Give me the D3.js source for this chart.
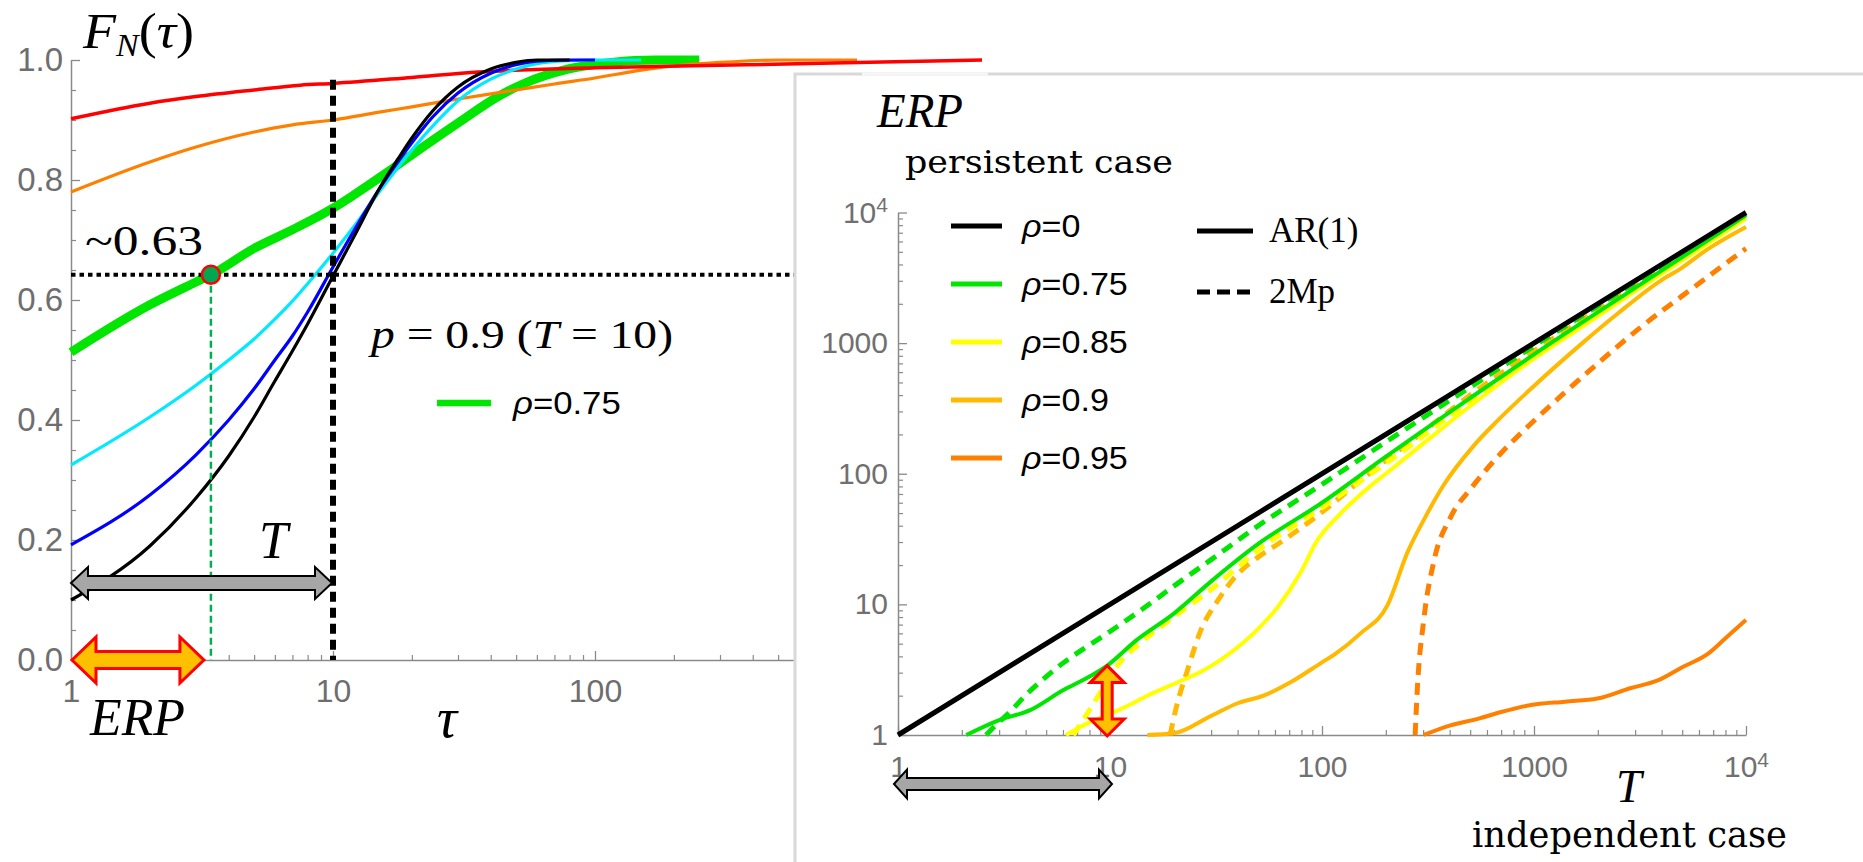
<!DOCTYPE html>
<html><head><meta charset="utf-8">
<script src="https://cdn.jsdelivr.net/npm/d3@7"></script>
<style>body{margin:0;background:#fff;} svg{display:block;}</style>
</head><body><svg id="c" width="1863" height="862"></svg>
<script>
// ---------------- LEFT PANEL DATA: F_N(tau) ----------------
const leftXTicks = [1, 10, 100];
const leftXTickLabels = ["1", "10", "100"];
const leftXMinor = [2,3,4,5,6,7,8,9,20,30,40,50,60,70,80,90,200,300,400,500,600,700,800,900];
const leftYTicks = [0, 0.2, 0.4, 0.6, 0.8, 1.0];
const leftYTickLabels = ["0.0", "0.2", "0.4", "0.6", "0.8", "1.0"];
const leftYMinor = [0.05,0.1,0.15,0.25,0.3,0.35,0.45,0.5,0.55,0.65,0.7,0.75,0.85,0.9,0.95];

const tauBlack = [1,2,3,4,5,6,7,8,10,12,15,18,20,24,30,40,50,60,80];
const fBlack   = [0.10,0.19,0.27,0.34,0.405,0.465,0.515,0.56,0.64,0.705,0.785,0.84,0.87,0.915,0.955,0.985,0.996,1.0,1.0];
const tauBlue  = [1,2,3,4,5,6,7,8,10,12,15,18,20,24,30,40,50,60,80,100];
const fBlue    = [0.192,0.275,0.342,0.40,0.452,0.50,0.54,0.58,0.655,0.715,0.785,0.835,0.862,0.905,0.945,0.978,0.992,0.998,1.0,1.0];
const tauCyan  = [1,2,3,4,5,6,7,8.4,10,12,15,18,20,25,30,40,50,60,80,100,150];
const fCyan    = [0.325,0.405,0.458,0.50,0.535,0.568,0.598,0.638,0.678,0.722,0.78,0.825,0.85,0.898,0.932,0.968,0.985,0.994,0.999,1.0,1.0];
const tauGreen = [1,2,3,3.42,5,7,10,12,16,20,30,43,53,79,116,170,250];
const fGreen   = [0.513,0.592,0.63,0.642,0.686,0.717,0.753,0.775,0.812,0.842,0.895,0.94,0.96,0.985,0.996,1.0,1.0];
const tauOrange= [1,2,3,5,7,10,15,20,30,50,70,100,150,200,300,500,1000];
const fOrange  = [0.78,0.83,0.855,0.88,0.892,0.90,0.913,0.922,0.935,0.95,0.96,0.97,0.983,0.99,0.996,1.0,1.0];
const tauRed   = [1,2,3,5,7.5,10,20,36,100,378,1000,3000];
const fRed     = [0.902,0.928,0.939,0.95,0.958,0.961,0.971,0.98,0.987,0.992,0.996,1.0];

const pLevel = 0.642;     // F value of the ~0.63 threshold
const erpTau = 3.42;      // tau where green crosses the threshold
const Tval = 10;          // T = 10

// ---------------- RIGHT PANEL DATA: ERP vs T ----------------
const rightTicks = [1, 10, 100, 1000, 10000];
const rightTickLabels = ["1", "10", "100", "1000", "10^4"];
const rightMinor = [];
[1,10,100,1000].forEach(b => [2,3,4,5,6,7,8,9].forEach(m => rightMinor.push(b*m)));

const T_rho0 = [1, 10000];
const E_rho0 = [1, 10000];
const T_g_ar = [2.1,3,4.2,6,8,9.7,13.3,20,30,50,100,200,500,1000,3000,10000];
const E_g_ar = [1,1.3,1.55,2.2,2.8,3.4,5.3,8.5,15,29,60,135,380,820,2650,9500];
const T_g_mp = [2.6,3,3.3,4.1,5,6,7.4,10,15,20,30,50,100,200,500,1000,3000,10000];
const E_g_mp = [1,1.26,1.45,2.1,2.8,3.55,4.5,6.2,9.8,13.8,22,40,83,175,460,950,2900,9750];
const T_y_ar = [6.2,8,10,12,15,20.5,27.4,40,50,62,80,94,120,167,200,300,500,1000,2000,3000,5000,10000];
const E_y_ar = [1,1.25,1.45,1.66,2.0,2.5,3.1,4.7,6.5,9.6,18,30,48,79,100,170,330,760,1600,2500,4300,9000];
const T_y_mp = [6.7,7.9,9.6,11,13.8,20,30,50,100,200,500,1000,3000,10000];
const E_y_mp = [1,1.5,2.5,3.5,5.0,8.0,13,26,55,120,360,780,2550,9100];
const T_o9_ar = [15,20,30,40,53,70,100,116,152,204,253,308,375,513,673,1000,1690,2500,3950,4900,6550,10000];
const E_o9_ar = [1,1.03,1.4,1.75,2.0,2.5,3.6,4.2,6.0,9.9,25,47,82,160,255,470,1000,1700,3000,3700,5200,7750];
const T_o9_mp = [19.2,20.6,23,27,32,40,50,62,94,160,300,500,1000,2000,5000,10000];
const E_o9_mp = [1,1.66,3,6.5,10.5,17,23,29,47,95,210,400,870,1800,4600,9200];
const T_o95_ar = [302,400,553,700,954,1400,1990,2840,3860,5000,6630,8000,10000];
const E_o95_ar = [1,1.18,1.34,1.5,1.69,1.8,1.9,2.28,2.63,3.3,4.2,5.5,7.6];
const T_o95_mp = [275,282,302,338,405,510,700,955,1365,2000,3200,5000,10000];
const E_o95_mp = [1,2.34,7.6,21.8,46.8,79,144,237,405,700,1330,2300,5300];

const legendRho = ["0", "0.75", "0.85", "0.9", "0.95"];
const legendStyles = ["AR(1)", "2Mp"];
const arrowT = 9.7, arrowE = 3.4;

// ---------------- SETUP ----------------
const svg = d3.select("#c");
const serif = "'Liberation Serif', 'Times New Roman', serif";
const sans = "'Liberation Sans', Arial, sans-serif";

const xL = d3.scaleLog().domain([1, 1000]).range([71, 857]);
const yL = d3.scaleLinear().domain([0, 1]).range([660, 60]);
const xR = d3.scaleLog().domain([1, 1e4]).range([898, 1746]);
const yR = d3.scaleLog().domain([1, 1e4]).range([735, 212.5]);

function styleAxis(g, fs, col) {
  g.select(".domain").attr("stroke", "#8a8a8a").attr("stroke-width", 1.5);
  g.selectAll(".tick line").attr("stroke", "#8a8a8a").attr("stroke-width", 1.3);
  g.selectAll(".tick text").attr("font-family", sans).attr("font-size", fs).attr("fill", col);
}
function dArrowH(x1, x2, yc, bh, hh, hl) {
  return `M${x1},${yc}L${x1+hl},${yc-hh/2}L${x1+hl},${yc-bh/2}L${x2-hl},${yc-bh/2}L${x2-hl},${yc-hh/2}L${x2},${yc}L${x2-hl},${yc+hh/2}L${x2-hl},${yc+bh/2}L${x1+hl},${yc+bh/2}L${x1+hl},${yc+hh/2}Z`;
}
function dArrowV(xc, y1, y2, bw, hw, hl) {
  return `M${xc},${y1}L${xc+hw/2},${y1+hl}L${xc+bw/2},${y1+hl}L${xc+bw/2},${y2-hl}L${xc+hw/2},${y2-hl}L${xc},${y2}L${xc-hw/2},${y2-hl}L${xc-bw/2},${y2-hl}L${xc-bw/2},${y1+hl}L${xc-hw/2},${y1+hl}Z`;
}
function stretch(t, k) {
  const n = t.node().getComputedTextLength();
  t.attr("textLength", n * k).attr("lengthAdjust", "spacingAndGlyphs");
}
const zip = (a, b) => a.map((v, i) => [v, b[i]]);

// ---------------- LEFT PANEL ----------------
const gL = svg.append("g");
gL.append("g").attr("transform", "translate(71,0)")
  .call(d3.axisLeft(yL).tickValues(leftYMinor).tickSize(-5).tickFormat("").tickSizeOuter(0))
  .call(g => { g.select(".domain").remove(); g.selectAll("line").attr("stroke", "#8a8a8a").attr("stroke-width", 1.2); });
gL.append("g").attr("transform", "translate(0,660)")
  .call(d3.axisBottom(xL).tickValues(leftXMinor).tickSize(-5).tickFormat("").tickSizeOuter(0))
  .call(g => { g.select(".domain").remove(); g.selectAll("line").attr("stroke", "#8a8a8a").attr("stroke-width", 1.2); });
gL.append("g").attr("transform", "translate(71,0)")
  .call(d3.axisLeft(yL).tickValues(leftYTicks).tickFormat((d, i) => leftYTickLabels[i]).tickSize(-9).tickPadding(8).tickSizeOuter(0))
  .call(g => styleAxis(g, 33, "#6e6e6e"));
gL.append("g").attr("transform", "translate(0,660)")
  .call(d3.axisBottom(xL).tickValues(leftXTicks).tickFormat((d, i) => leftXTickLabels[i]).tickSize(-9).tickPadding(19).tickSizeOuter(0))
  .call(g => styleAxis(g, 32, "#6e6e6e"));

const lineL = d3.line().x(d => xL(d[0])).y(d => yL(d[1])).curve(d3.curveMonotoneX);
const leftSeries = [
  {t: tauGreen, f: fGreen, c: "#00e600", w: 9},
  {t: tauOrange, f: fOrange, c: "#ff8000", w: 3.2},
  {t: tauRed, f: fRed, c: "#ff0000", w: 3.5},
  {t: tauCyan, f: fCyan, c: "#00eaff", w: 3.2},
  {t: tauBlue, f: fBlue, c: "#0000ff", w: 3.2},
  {t: tauBlack, f: fBlack, c: "#000000", w: 3.2}
];
leftSeries.forEach(s => gL.append("path").attr("d", lineL(zip(s.t, s.f)))
  .attr("fill", "none").attr("stroke", s.c).attr("stroke-width", s.w).attr("stroke-linejoin", "round"));

gL.append("line").attr("x1", xL(1)).attr("x2", 796).attr("y1", yL(pLevel)).attr("y2", yL(pLevel))
  .attr("stroke", "#000").attr("stroke-width", 4).attr("stroke-dasharray", "4.5,4");
gL.append("line").attr("x1", xL(Tval)).attr("x2", xL(Tval)).attr("y1", yL(0.967)).attr("y2", yL(0))
  .attr("stroke", "#000").attr("stroke-width", 6).attr("stroke-dasharray", "10,6");
gL.append("line").attr("x1", xL(erpTau)).attr("x2", xL(erpTau)).attr("y1", yL(pLevel)).attr("y2", yL(0))
  .attr("stroke", "#00b050").attr("stroke-width", 2.5).attr("stroke-dasharray", "7,4");
gL.append("circle").attr("cx", xL(erpTau)).attr("cy", yL(pLevel)).attr("r", 9)
  .attr("fill", "#00a651").attr("stroke", "#ff0000").attr("stroke-width", 2.5);

gL.append("path").attr("d", dArrowH(xL(1), xL(Tval) - 1, 583, 14, 32, 17))
  .attr("fill", "#a6a6a6").attr("stroke", "#000").attr("stroke-width", 2);
gL.append("path").attr("d", dArrowH(xL(1) + 1, xL(erpTau) - 7, yL(0), 17, 46, 24))
  .attr("fill", "#ffc000").attr("stroke", "#ff0000").attr("stroke-width", 3);

const tF = gL.append("text").attr("x", 83).attr("y", 48).attr("font-family", serif).attr("font-size", 51)
  .attr("textLength", 111).attr("lengthAdjust", "spacingAndGlyphs");
tF.append("tspan").attr("font-style", "italic").text("F");
tF.append("tspan").attr("font-style", "italic").attr("font-size", 32).attr("dy", 8).text("N");
tF.append("tspan").attr("dy", -8).text("(");
tF.append("tspan").attr("font-style", "italic").text("τ");
tF.append("tspan").text(")");

gL.append("text").attr("x", 85).attr("y", 255).attr("font-family", serif).attr("font-size", 43)
  .attr("textLength", 118).attr("lengthAdjust", "spacingAndGlyphs").text("~0.63");

const tp = gL.append("text").attr("x", 371).attr("y", 348).attr("font-family", serif).attr("font-size", 39)
  .attr("textLength", 302).attr("lengthAdjust", "spacingAndGlyphs");
tp.append("tspan").attr("font-style", "italic").text("p");
tp.append("tspan").text(" = 0.9  (");
tp.append("tspan").attr("font-style", "italic").text("T");
tp.append("tspan").text(" = 10)");

gL.append("line").attr("x1", 437).attr("x2", 491).attr("y1", 403).attr("y2", 403)
  .attr("stroke", "#00e600").attr("stroke-width", 6.5);
const tleg = gL.append("text").attr("x", 513).attr("y", 414).attr("font-family", sans).attr("font-size", 31);
tleg.append("tspan").attr("font-style", "italic").text("ρ");
tleg.append("tspan").text("=0.75");
stretch(tleg, 1.12);

gL.append("text").attr("x", 259).attr("y", 558).attr("font-family", serif).attr("font-style", "italic")
  .attr("font-size", 52).text("T");
gL.append("text").attr("x", 90).attr("y", 735).attr("font-family", serif).attr("font-style", "italic")
  .attr("font-size", 52).attr("textLength", 95).attr("lengthAdjust", "spacingAndGlyphs").text("ERP");
gL.append("text").attr("x", 437).attr("y", 737).attr("font-family", serif).attr("font-style", "italic")
  .attr("font-size", 56).text("τ");

// ---------------- INSET BOX ----------------
svg.append("rect").attr("x", 795).attr("y", 74).attr("width", 1200).attr("height", 900)
  .attr("fill", "#fff").attr("stroke", "#d9d9d9").attr("stroke-width", 3);
svg.append("line").attr("x1", 862).attr("x2", 988).attr("y1", 74).attr("y2", 74)
  .attr("stroke", "#f6f6f6").attr("stroke-width", 3.5);

// ---------------- RIGHT PANEL ----------------
const gR = svg.append("g");
gR.append("g").attr("transform", "translate(898,0)")
  .call(d3.axisLeft(yR).tickValues(rightMinor).tickSize(-5).tickFormat("").tickSizeOuter(0))
  .call(g => { g.select(".domain").remove(); g.selectAll("line").attr("stroke", "#8a8a8a").attr("stroke-width", 1.2); });
gR.append("g").attr("transform", "translate(0,735)")
  .call(d3.axisBottom(xR).tickValues(rightMinor).tickSize(-5).tickFormat("").tickSizeOuter(0))
  .call(g => { g.select(".domain").remove(); g.selectAll("line").attr("stroke", "#8a8a8a").attr("stroke-width", 1.2); });

function supLabels(g) {
  g.selectAll(".tick text").filter(d => d === 1e4).each(function() {
    const t = d3.select(this); t.text(null);
    t.append("tspan").text("10");
    t.append("tspan").attr("dy", "-0.5em").attr("font-size", 21).text("4");
  });
}
gR.append("g").attr("transform", "translate(898,0)")
  .call(d3.axisLeft(yR).tickValues(rightTicks).tickFormat((d, i) => rightTickLabels[i]).tickSize(-9).tickPadding(10).tickSizeOuter(0))
  .call(g => styleAxis(g, 30, "#707070")).call(supLabels);
gR.append("g").attr("transform", "translate(0,735)")
  .call(d3.axisBottom(xR).tickValues(rightTicks).tickFormat((d, i) => rightTickLabels[i]).tickSize(-9).tickPadding(21).tickSizeOuter(0))
  .call(g => styleAxis(g, 30, "#707070")).call(supLabels);

const lineR = d3.line().x(d => xR(d[0])).y(d => yR(d[1])).curve(d3.curveMonotoneX);
const rightSeries = [
  {t: T_o95_mp, e: E_o95_mp, c: "#ff8000", dash: true},
  {t: T_o95_ar, e: E_o95_ar, c: "#ff8000", dash: false},
  {t: T_o9_mp, e: E_o9_mp, c: "#ffb900", dash: true},
  {t: T_o9_ar, e: E_o9_ar, c: "#ffb900", dash: false},
  {t: T_y_mp, e: E_y_mp, c: "#ffff00", dash: true},
  {t: T_y_ar, e: E_y_ar, c: "#ffff00", dash: false},
  {t: T_g_mp, e: E_g_mp, c: "#00e600", dash: true},
  {t: T_g_ar, e: E_g_ar, c: "#00e600", dash: false},
  {t: T_rho0, e: E_rho0, c: "#000000", dash: false, w: 5}
];
rightSeries.forEach(s => gR.append("path").attr("d", lineR(zip(s.t, s.e)))
  .attr("fill", "none").attr("stroke", s.c).attr("stroke-width", s.w || (s.dash ? 5 : 4))
  .attr("stroke-dasharray", s.dash ? "12,8" : null));

gR.append("path").attr("d", dArrowV(xR(arrowT), yR(arrowE), yR(1) + 1, 10, 34, 17))
  .attr("fill", "#ffc000").attr("stroke", "#ff0000").attr("stroke-width", 3);
gR.append("path").attr("d", dArrowH(xR(1) - 4, xR(Tval) + 2, 784, 12, 29, 13))
  .attr("fill", "#a6a6a6").attr("stroke", "#000").attr("stroke-width", 2);

const legColors = ["#000000", "#00e600", "#ffff00", "#ffb900", "#ff8000"];
legendRho.forEach((r, i) => {
  const y = 226 + i * 58;
  gR.append("line").attr("x1", 951).attr("x2", 1002).attr("y1", y).attr("y2", y)
    .attr("stroke", legColors[i]).attr("stroke-width", 5);
  const t = gR.append("text").attr("x", 1022).attr("y", y + 11).attr("font-family", sans).attr("font-size", 31);
  t.append("tspan").attr("font-style", "italic").text("ρ");
  t.append("tspan").text("=" + r);
  stretch(t, 1.1);
});
legendStyles.forEach((s, i) => {
  const y = 231 + i * 61;
  gR.append("line").attr("x1", 1197).attr("x2", 1253).attr("y1", y).attr("y2", y)
    .attr("stroke", "#000").attr("stroke-width", 5).attr("stroke-dasharray", i ? "13,7" : null);
  gR.append("text").attr("x", 1269).attr("y", y + 11).attr("font-family", serif).attr("font-size", 35).text(s);
});

gR.append("text").attr("x", 877).attr("y", 127).attr("font-family", serif).attr("font-style", "italic")
  .attr("font-size", 48).attr("textLength", 86).attr("lengthAdjust", "spacingAndGlyphs").text("ERP");
gR.append("text").attr("x", 905).attr("y", 173).attr("font-family", "'DejaVu Serif', serif")
  .attr("font-size", 31).attr("textLength", 268).attr("lengthAdjust", "spacingAndGlyphs").text("persistent case");
gR.append("text").attr("x", 1616).attr("y", 802).attr("font-family", serif).attr("font-style", "italic")
  .attr("font-size", 46).text("T");
gR.append("text").attr("x", 1472).attr("y", 847).attr("font-family", "'DejaVu Serif', serif")
  .attr("font-size", 35).attr("textLength", 315).attr("lengthAdjust", "spacingAndGlyphs").text("independent case");
</script></body></html>
